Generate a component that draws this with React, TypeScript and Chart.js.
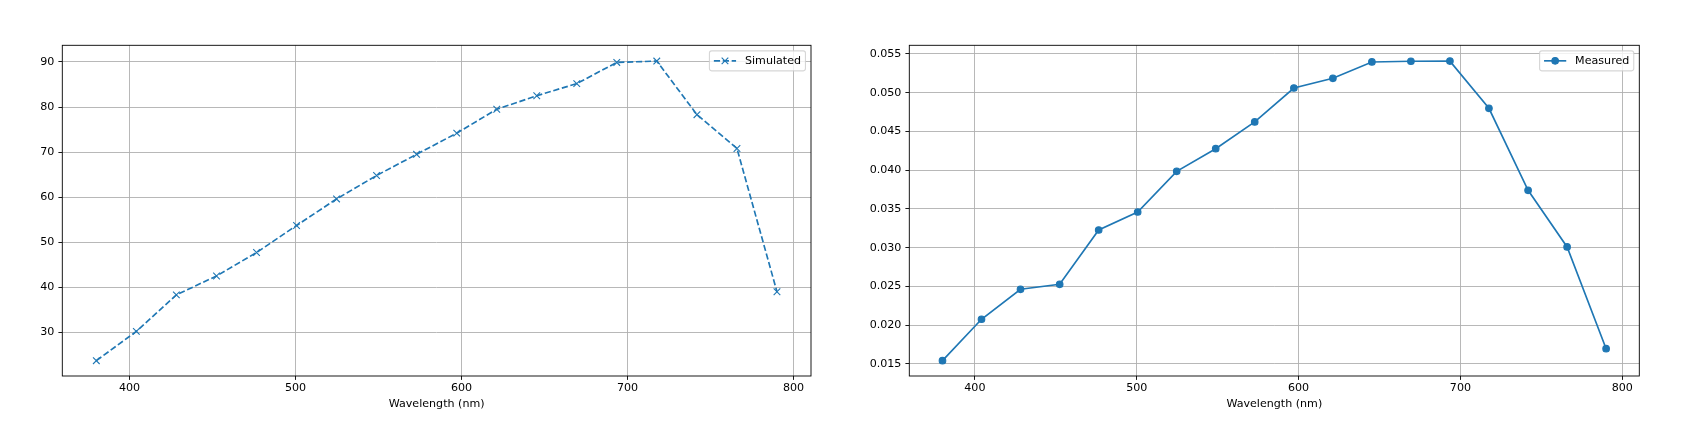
import React, { useEffect, useRef } from "react";
import { Chart, registerables } from "chart.js";

Chart.register(...registerables);

// ---------- data ----------
const WAVELENGTHS = [380, 404.1, 428.2, 452.4, 476.5, 500.6, 524.7, 548.8, 572.9, 597.1, 621.2, 645.3, 669.4, 693.5, 717.6, 741.8, 765.9, 790];
const SIMULATED = [23.7, 30.2, 38.3, 42.5, 47.7, 53.7, 59.6, 64.8, 69.5, 74.2, 79.5, 82.5, 85.2, 89.9, 90.2, 78.3, 70.8, 39.0];
const MEASURED = [0.01543, 0.02077, 0.02464, 0.02528, 0.03229, 0.03461, 0.03986, 0.04278, 0.04623, 0.05061, 0.05186, 0.05397, 0.05406, 0.05408, 0.04799, 0.03741, 0.0301, 0.01697];
const X_TICKS = [400, 500, 600, 700, 800];
const SIM_TICKS = [30, 40, 50, 60, 70, 80, 90];
const MEAS_TICKS = [0.015, 0.02, 0.025, 0.03, 0.035, 0.04, 0.045, 0.05, 0.055];
const X_RANGE = [359.5, 810.5];
const SIM_RANGE = [20.3, 93.7];
const MEAS_RANGE = [0.01345, 0.05612];
const X_LABEL = "Wavelength (nm)";
const SIM_LABEL = "Simulated";
const MEAS_LABEL = "Measured";

// ---------- style ----------
const FONT = "DejaVu Sans";
const FS = 11.1;
const BLUE = "#1f77b4";

const mplPlugin = {
  id: "mplDecor",
  afterDraw(chart: any) {
    const ctx = chart.ctx;
    const a = chart.chartArea;
    ctx.save();
    // spines
    ctx.strokeStyle = "#000";
    ctx.lineWidth = 0.9;
    ctx.setLineDash([]);
    ctx.strokeRect(a.left, a.top, a.right - a.left, a.bottom - a.top);

    // legend
    const ds = chart.data.datasets[0];
    ctx.font = `${FS}px "${FONT}"`;
    const tw = ctx.measureText(ds.label).width;
    const pad = 0.4 * FS;
    const hl = 2 * FS;
    const htp = 0.8 * FS;
    const w = pad + hl + htp + tw + pad;
    const h = 1.8 * FS;
    const right = a.right - 0.5 * FS;
    const left = right - w;
    const top = a.top + 0.5 * FS;
    const r = 0.2 * FS;
    ctx.beginPath();
    ctx.moveTo(left + r, top);
    ctx.lineTo(left + w - r, top);
    ctx.arcTo(left + w, top, left + w, top + r, r);
    ctx.lineTo(left + w, top + h - r);
    ctx.arcTo(left + w, top + h, left + w - r, top + h, r);
    ctx.lineTo(left + r, top + h);
    ctx.arcTo(left, top + h, left, top + h - r, r);
    ctx.lineTo(left, top + r);
    ctx.arcTo(left, top, left + r, top, r);
    ctx.closePath();
    ctx.fillStyle = "rgba(255,255,255,0.8)";
    ctx.fill();
    ctx.strokeStyle = "rgba(204,204,204,0.8)";
    ctx.lineWidth = 1.1;
    ctx.stroke();

    const cy = top + h / 2;
    const hx0 = left + pad;
    ctx.strokeStyle = ds.borderColor;
    ctx.lineWidth = ds.borderWidth;
    ctx.setLineDash(ds.borderDash || []);
    ctx.beginPath();
    ctx.moveTo(hx0, cy);
    ctx.lineTo(hx0 + hl, cy);
    ctx.stroke();
    ctx.setLineDash([]);
    const mx = hx0 + hl / 2;
    if (ds.pointStyle === "crossRot") {
      const e = ds.pointRadius * Math.SQRT1_2;
      ctx.lineWidth = ds.pointBorderWidth;
      ctx.beginPath();
      ctx.moveTo(mx - e, cy - e);
      ctx.lineTo(mx + e, cy + e);
      ctx.moveTo(mx - e, cy + e);
      ctx.lineTo(mx + e, cy - e);
      ctx.stroke();
    } else {
      ctx.fillStyle = ds.pointBackgroundColor;
      ctx.lineWidth = ds.pointBorderWidth;
      ctx.beginPath();
      ctx.arc(mx, cy, ds.pointRadius, 0, Math.PI * 2);
      ctx.fill();
      ctx.stroke();
    }
    ctx.fillStyle = "#000";
    ctx.textBaseline = "middle";
    ctx.textAlign = "left";
    ctx.fillText(ds.label, hx0 + hl + htp, cy);
    ctx.restore();
  },
};

function makeConfig(opts: {
  label: string;
  values: number[];
  dashed: boolean;
  yRange: number[];
  yTicks: number[];
  yWidth: number;
  rightPad: number;
  decimals: number;
}): any {
  const font = { family: FONT, size: FS };
  const grid = {
    color: "#b0b0b0",
    lineWidth: 0.9,
    tickColor: "#000",
    tickLength: 3.9,
    tickWidth: 0.9,
    drawTicks: true,
  };
  return {
    type: "line",
    data: {
      datasets: [
        {
          label: opts.label,
          data: WAVELENGTHS.map((x, i) => ({ x, y: opts.values[i] })),
          borderColor: BLUE,
          backgroundColor: BLUE,
          borderWidth: 1.67,
          borderDash: opts.dashed ? [6.2, 2.7] : [],
          pointStyle: opts.dashed ? "crossRot" : "circle",
          pointRadius: opts.dashed ? 4.7 : 3.3,
          pointBorderWidth: 1.1,
          pointBorderColor: BLUE,
          pointBackgroundColor: BLUE,
          fill: false,
          tension: 0,
          clip: false,
        },
      ],
    },
    options: {
      animation: false,
      responsive: false,
      events: [],
      layout: { padding: { left: 0, top: 45.3, right: opts.rightPad, bottom: 0 } },
      plugins: { legend: { display: false }, tooltip: { enabled: false }, title: { display: false } },
      scales: {
        x: {
          type: "linear",
          min: X_RANGE[0],
          max: X_RANGE[1],
          afterBuildTicks: (s: any) => {
            s.ticks = X_TICKS.map((v) => ({ value: v }));
          },
          afterFit: (s: any) => {
            s.height = 71;
          },
          grid,
          border: { display: false },
          ticks: {
            font,
            color: "#000",
            padding: 1.8,
            maxRotation: 0,
            autoSkip: false,
            callback: (v: any) => String(v),
          },
          title: {
            display: true,
            text: X_LABEL,
            font,
            color: "#000",
            padding: { top: 0, bottom: 36.3 },
          },
        },
        y: {
          type: "linear",
          min: opts.yRange[0],
          max: opts.yRange[1],
          afterBuildTicks: (s: any) => {
            s.ticks = opts.yTicks.map((v) => ({ value: v }));
          },
          afterFit: (s: any) => {
            s.width = opts.yWidth;
          },
          grid,
          border: { display: false },
          ticks: {
            font,
            color: "#000",
            padding: 4,
            autoSkip: false,
            callback: (v: any) => Number(v).toFixed(opts.decimals),
          },
        },
      },
    },
    plugins: [mplPlugin],
  };
}

export default function App() {
  const leftRef = useRef<HTMLCanvasElement | null>(null);
  const rightRef = useRef<HTMLCanvasElement | null>(null);

  useEffect(() => {
    const c1 = new Chart(
      leftRef.current as HTMLCanvasElement,
      makeConfig({
        label: SIM_LABEL,
        values: SIMULATED,
        dashed: true,
        yRange: SIM_RANGE,
        yTicks: SIM_TICKS,
        yWidth: 62.3,
        rightPad: 29,
        decimals: 0,
      })
    );
    const c2 = new Chart(
      rightRef.current as HTMLCanvasElement,
      makeConfig({
        label: MEAS_LABEL,
        values: MEASURED,
        dashed: false,
        yRange: MEAS_RANGE,
        yTicks: MEAS_TICKS,
        yWidth: 69.3,
        rightPad: 41.7,
        decimals: 3,
      })
    );
    return () => {
      c1.destroy();
      c2.destroy();
    };
  }, []);

  return (
    <div style={{ position: "absolute", left: 0, top: 0, width: 1681, height: 447, background: "#fff" }}>
      <canvas
        ref={leftRef}
        width={840}
        height={447}
        style={{ position: "absolute", left: 0, top: 0, width: 840, height: 447 }}
      />
      <canvas
        ref={rightRef}
        width={841}
        height={447}
        style={{ position: "absolute", left: 840, top: 0, width: 841, height: 447 }}
      />
    </div>
  );
}
